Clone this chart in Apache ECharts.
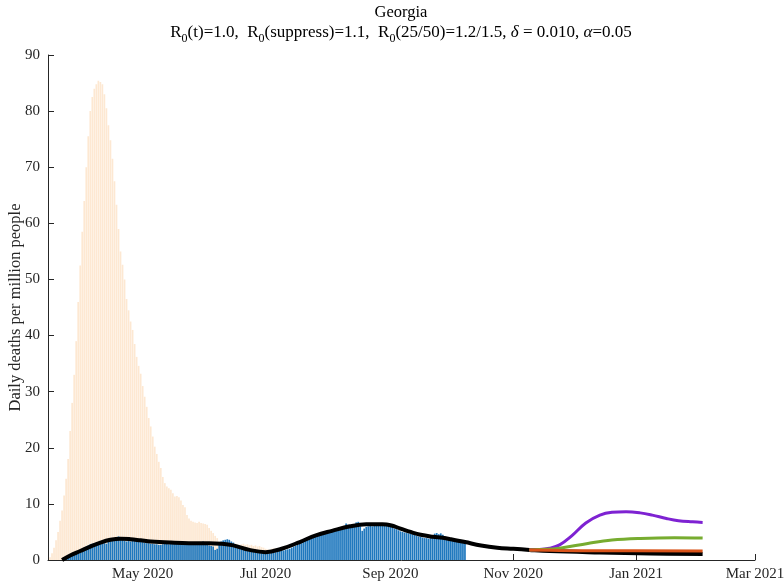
<!DOCTYPE html>
<html><head><meta charset="utf-8">
<script src="https://cdn.jsdelivr.net/npm/echarts@6/dist/echarts.min.js"></script>
<style>html,body{margin:0;padding:0;background:#fff}#c{width:784px;height:582px}</style>
</head><body><div id="c"></div>
<script>
// ---- data ----
const axisStart = '2020-03-15';
const axisEnd = '2021-03-01';
const tickDates = ['2020-05-01','2020-07-01','2020-09-01','2020-11-01','2021-01-01','2021-03-01'];
const tickLabels = ['May 2020','Jul 2020','Sep 2020','Nov 2020','Jan 2021','Mar 2021'];

const peachStart = '2020-03-16';
const peachValues = [0.5,1.2,2.2,3.5,5.0,7.0,8.8,11.5,14.5,18,
 23,28,33,39,46,52.5,58.5,64,70,75.5,
 80,82.5,84,84.8,85.4,85.2,84.8,83,80.5,77.5,
 74.8,71.5,67.5,63.3,59,55,52.6,50,46.5,44.5,
 42.5,41,38.5,36.2,34.6,33.2,31,29.1,27.3,25.3,
 23.8,22,20.2,18.9,17.5,16.4,14.8,13.7,13.1,12.8,
 12.5,11.9,11.3,11.4,11.2,10.6,9.8,9.4,8.0,7.4,
 7.0,6.8,6.7,6.6,6.8,6.6,6.5,6.4,6.3,5.7,
 5.2,4.8,4.3,3.9,3.3,3.0,2.6,2.4,2.5,2.6,
 2.8,2.7,2.9,2.8,2.7,2.8,2.9,2.7,2.8,2.6,
 2.7,2.5,2.6,2.4,2.5,2.3,2.2,2.0,1.9,1.8,
 2.0,2.1,2.0,1.9,1.8];

const blueStart = '2020-03-23';
const blueValues = [0.1,0.2,0.4,0.6,0.8,1.0,1.2,1.5,1.8,2.0,
 2.2,2.4,2.6,2.8,2.9,3.0,3.1,3.2,3.3,3.2,
 3.0,2.9,3.3,3.5,3.6,3.8,4.1,4.2,3.8,3.6,
 3.4,3.3,3.4,3.3,3.4,3.5,3.5,3.4,3.3,3.2,
 3.1,3.0,3.0,2.9,2.9,2.8,2.8,2.7,2.7,2.8,
 2.9,2.9,2.8,3.0,3.0,2.9,3.1,2.9,2.8,2.9,
 3.0,3.0,2.9,3.1,3.1,3.0,2.9,2.9,3.2,3.3,
 2.9,2.7,2.6,2.5,2.4,1.8,2.0,3.1,3.3,3.5,
 3.6,3.7,3.6,3.3,3.1,2.8,2.6,2.5,2.3,2.2,
 2.0,1.9,1.8,1.6,1.5,1.5,1.4,1.3,1.3,1.3,
 1.2,1.2,1.2,1.3,1.3,1.4,1.5,1.6,1.7,1.7,
 1.8,1.9,2.0,2.2,2.4,2.5,2.7,2.9,3.0,3.2,
 3.4,3.6,3.8,3.9,4.1,4.2,4.3,4.4,4.5,4.6,
 4.7,4.8,4.9,5.1,5.3,5.4,5.5,5.7,5.8,6.0,
 6.5,6.3,6.1,6.2,6.4,6.7,6.8,6.0,5.2,5.6,
 5.9,6.0,6.1,6.0,6.2,6.3,6.4,6.3,6.2,6.1,
 6.2,6.1,6.2,5.9,5.6,5.5,5.3,5.1,5.0,4.9,
 4.8,4.75,4.7,4.6,4.45,4.3,4.2,4.1,4.0,3.9,
 3.9,3.8,3.9,4.4,4.7,4.8,4.6,4.75,4.5,4.2,
 4.0,3.9,3.8,3.7,3.7,3.6,3.5,3.4,3.3,3.3];

// fitted curve and projections: day offsets from axisStart
const fitDays   = [7,11,16,21,26,31,36,41,46,51,61,70,80,86,92,100,108,116,125,133,141,150,158,166,170,175,180,185,191,196,200,207,215,223,231,239,249,274,299,325];
const fitValues = [0,0.8,1.6,2.4,3.1,3.6,3.8,3.7,3.5,3.3,3.1,3.0,3.0,2.9,2.6,1.8,1.4,2.0,3.2,4.4,5.2,6.0,6.35,6.35,6.2,5.6,5.0,4.5,4.15,3.95,3.7,3.2,2.6,2.2,2.0,1.8,1.6,1.35,1.15,1.05];
const purpleDays   = [239,244,249,254,260,267,274,280,287,294,300,307,313,320,325];
const purpleValues = [1.8,1.85,2.1,2.7,4.3,6.6,8.0,8.5,8.6,8.4,8.0,7.4,7.0,6.8,6.7];
const greenDays   = [239,244,254,268,280,294,311,325];
const greenValues = [1.8,1.85,2.1,2.95,3.55,3.85,3.98,3.9];
const orangeDays   = [239,254,274,325];
const orangeValues = [1.8,1.7,1.65,1.6];

// ---- helpers ----
function parse(s, add) { const p = s.split('-').map(Number); return new Date(p[0], p[1]-1, p[2] + (add||0)).getTime(); }
const tickVals = tickDates.map(s => parse(s));
const daily = (start, vals) => vals.map((v, i) => [parse(start, i), v]);
const byDays = (days, vals) => days.map((d, i) => [parse(axisStart, d), vals[i]]);

const FONT = 'Liberation Serif';
const AX = '#262626';

const chart = echarts.init(document.getElementById('c'), null, {renderer: 'canvas'});
chart.setOption({
  animation: false,
  backgroundColor: '#fff',
  grid: {left: 48, right: 29, top: 55, bottom: 22, containLabel: false, outerBoundsMode: 'none'},
  graphic: [
    {type: 'text', x: 401, y: 4, style: {text: 'Georgia', font: '16.5px "Liberation Serif"', fill: '#000', align: 'center'}},
    {type: 'text', x: 401, y: 24, style: {
      align: 'center',
      text: '{n|R}{s|0}{n|(t)=1.0,  R}{s|0}{n|(suppress)=1.1,  R}{s|0}{n|(25/50)=1.2/1.5, }{i|δ}{n| = 0.010, }{i|α}{n|=0.05}',
      rich: {
        n: {fontFamily: FONT, fontSize: 17, lineHeight: 20, verticalAlign: 'top', fill: '#000'},
        i: {fontFamily: FONT, fontSize: 17, fontStyle: 'italic', lineHeight: 20, verticalAlign: 'top', fill: '#000'},
        s: {fontFamily: FONT, fontSize: 12, lineHeight: 12, verticalAlign: 'top', padding: [9, 0, 0, 0], fill: '#000'}
      }
    }}
  ],
  xAxis: {
    type: 'value',
    min: parse(axisStart), max: parse(axisEnd),
    axisLine: {show: true, lineStyle: {color: AX, width: 1}},
    axisTick: {show: true, inside: true, length: 6, customValues: tickVals, lineStyle: {color: AX}},
    axisLabel: {
      customValues: tickVals, fontFamily: FONT, fontSize: 15, color: AX, margin: 7,
      showMinLabel: true, showMaxLabel: true,
      formatter: v => { let best = 0; tickVals.forEach((t, i) => { if (Math.abs(t - v) < Math.abs(tickVals[best] - v)) best = i; }); return tickLabels[best]; }
    },
    splitLine: {show: false}
  },
  yAxis: {
    type: 'value', min: 0, max: 90, interval: 10,
    name: 'Daily deaths per million people', nameLocation: 'middle', nameGap: 24, nameRotate: 90,
    nameMoveOverlap: false,
    nameTextStyle: {fontFamily: FONT, fontSize: 16.5, color: AX},
    axisLine: {show: true, lineStyle: {color: AX, width: 1}},
    axisTick: {show: true, inside: true, length: 6, lineStyle: {color: AX}},
    axisLabel: {fontFamily: FONT, fontSize: 15, color: AX, margin: 8},
    splitLine: {show: false}
  },
  series: [
    {type: 'bar', data: daily(peachStart, peachValues), barWidth: 1.7, barGap: '-100%', itemStyle: {color: '#FDE8D2'}, z: 1},
    {type: 'bar', data: daily(blueStart, blueValues), barWidth: 1.7, barGap: '-100%', itemStyle: {color: '#1F78BE'}, z: 2},
    {type: 'line', data: byDays(fitDays, fitValues), showSymbol: false, smooth: 0.4, lineStyle: {color: '#000', width: 4}, z: 3},
    {type: 'line', data: byDays(purpleDays, purpleValues), showSymbol: false, smooth: 0.4, lineStyle: {color: '#7E22D2', width: 3}, z: 4},
    {type: 'line', data: byDays(greenDays, greenValues), showSymbol: false, smooth: 0.4, lineStyle: {color: '#77AC30', width: 3}, z: 4},
    {type: 'line', data: byDays(orangeDays, orangeValues), showSymbol: false, smooth: 0.4, lineStyle: {color: '#D95319', width: 3}, z: 4}
  ]
});
</script></body></html>
